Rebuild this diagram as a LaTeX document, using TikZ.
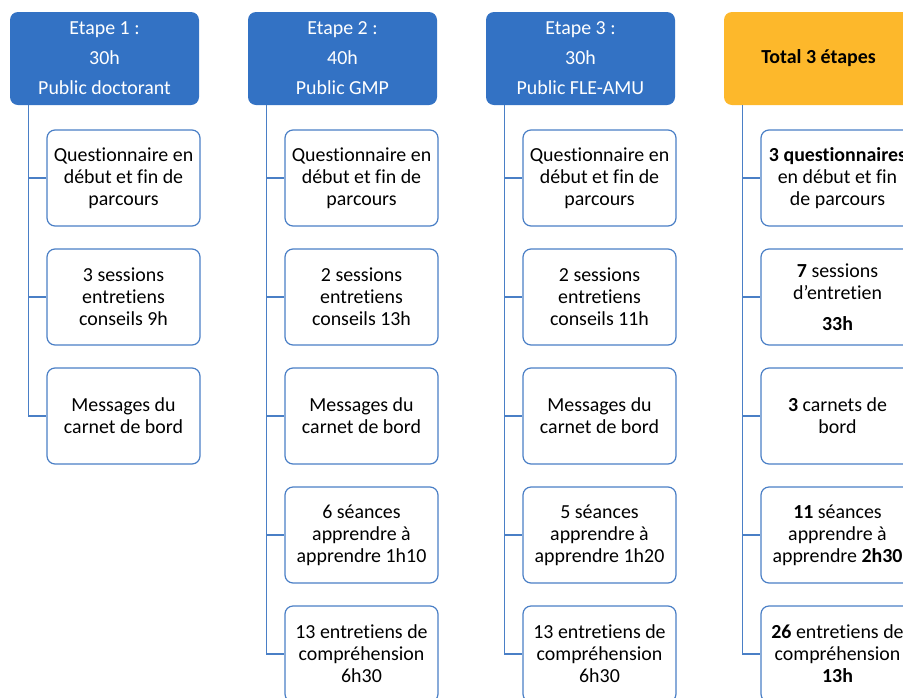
\documentclass[tikz,border=0pt]{standalone}
\usepackage{fontspec}
\setmainfont{Carlito}[RawFeature=-liga]
\usetikzlibrary{positioning}
\definecolor{etapeblue}{RGB}{51,114,196}
\definecolor{boxblue}{RGB}{74,127,198}
\definecolor{totalgold}{RGB}{253,184,43}

\tikzset{
  header/.style={draw=none, fill=etapeblue, rounded corners=8pt, text=white,
    minimum width=189pt, minimum height=93pt, align=center,
    font=\fontsize{19.9}{30}\selectfont},
  totalhead/.style={header, fill=totalgold, text=black, font=\fontsize{19.9}{30}\selectfont\bfseries},
  child/.style={draw=boxblue, line width=1.2pt, fill=white, rounded corners=8pt,
    minimum width=153pt, minimum height=96pt, align=center, inner sep=2pt,
    font=\fontsize{19.9}{22}\selectfont},
  link/.style={draw=boxblue, line width=1.3pt}
}

\begin{document}
\begin{tikzpicture}[x=1pt, y=-1pt]
  \useasboundingbox (0,0) rectangle (903,697);
  \clip (0,0) rectangle (903,697);

  \newcommand\X{238}
  \newcommand\Y{119}

  %% headers
  \node[header] (h1) at (104.5+0*\X, 58.5) {Etape 1 :\\30h\\Public doctorant};
  \node[header] (h2) at (104.5+1*\X, 58.5) {Etape 2 :\\40h\\Public GMP};
  \node[header] (h3) at (104.5+2*\X, 58.5) {Etape 3 :\\30h\\Public FLE-AMU};
  \node[totalhead] (h4) at (104.5+3*\X, 58.5) {Total 3 étapes};

  %% etape 1
  \node[child] (c11) at (123.5+0*\X, 178+0*\Y) {Questionnaire en\\début et fin de\\parcours};
  \node[child] (c12) at (123.5+0*\X, 178+1*\Y) {3 sessions\\entretiens\\conseils 9h};
  \node[child] (c13) at (123.5+0*\X, 178+2*\Y) {Messages du\\carnet de bord};

  %% etape 2
  \node[child] (c21) at (123.5+1*\X, 178+0*\Y) {Questionnaire en\\début et fin de\\parcours};
  \node[child] (c22) at (123.5+1*\X, 178+1*\Y) {2 sessions\\entretiens\\conseils 13h};
  \node[child] (c23) at (123.5+1*\X, 178+2*\Y) {Messages du\\carnet de bord};
  \node[child] (c24) at (123.5+1*\X, 178+3*\Y) {6 séances\\apprendre à\\apprendre 1h10};
  \node[child] (c25) at (123.5+1*\X, 178+4*\Y) {13 entretiens de\\compréhension\\6h30};

  %% etape 3
  \node[child] (c31) at (123.5+2*\X, 178+0*\Y) {Questionnaire en\\début et fin de\\parcours};
  \node[child] (c32) at (123.5+2*\X, 178+1*\Y) {2 sessions\\entretiens\\conseils 11h};
  \node[child] (c33) at (123.5+2*\X, 178+2*\Y) {Messages du\\carnet de bord};
  \node[child] (c34) at (123.5+2*\X, 178+3*\Y) {5 séances\\apprendre à\\apprendre 1h20};
  \node[child] (c35) at (123.5+2*\X, 178+4*\Y) {13 entretiens de\\compréhension\\6h30};

  %% total
  \node[child] (c41) at (123.5+3*\X, 178+0*\Y) {\textbf{3 questionnaires}\\en début et fin\\de parcours};
  \node[child] (c42) at (123.5+3*\X, 178+1*\Y) {\textbf{7} sessions\\d’entretien\\[9pt]\textbf{33h}};
  \node[child] (c43) at (123.5+3*\X, 178+2*\Y) {\textbf{3} carnets de\\bord};
  \node[child] (c44) at (123.5+3*\X, 178+3*\Y) {\textbf{11} séances\\apprendre à\\apprendre \textbf{2h30}};
  \node[child] (c45) at (123.5+3*\X, 178+4*\Y) {\textbf{26} entretiens de\\compréhension\\\textbf{13h}};

  %% links
  \foreach \c/\n in {1/3, 2/5, 3/5, 4/5} {
    \foreach \k in {1,...,\n}
      \draw[link] ([xshift=19pt]h\c.south west) |- (c\c\k.west);
  }
\end{tikzpicture}
\end{document}
